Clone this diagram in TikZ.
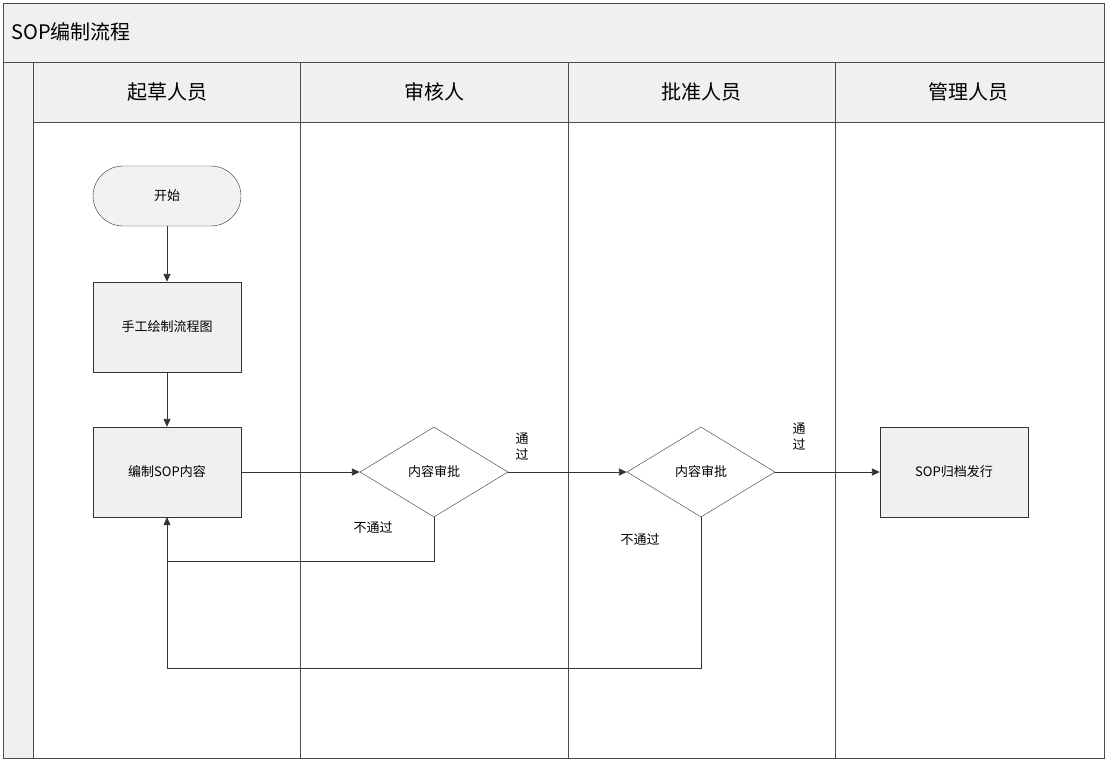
\documentclass[tikz,border=0pt]{standalone}
\usepackage{fontspec}
\setmainfont{Noto Sans CJK SC}
\usetikzlibrary{shapes.geometric,arrows.meta}
\begin{document}
\begin{tikzpicture}[x=1pt,y=-1pt,
  frame/.style={draw=black!70,line width=0.8pt},
  hdr/.style={frame,fill=black!6},
  box/.style={draw=black!80,fill=black!6,minimum width=148pt,minimum height=90pt,font=\fontsize{13}{15}\selectfont,inner sep=2pt},
  dia/.style={diamond,draw=black!80,fill=white,minimum width=148pt,minimum height=90pt,aspect=1.64,inner sep=0pt,font=\fontsize{13}{15}\selectfont},
  arr/.style={draw=black!80,line width=0.9pt,-{Triangle[length=8pt,width=7pt]}},
  lbl/.style={font=\fontsize{13}{15}\selectfont}]
\useasboundingbox (0,0) rectangle (1108,764);
\fill[white] (0,0) rectangle (1108,764);
% title and header
\draw[hdr] (3,3) rectangle (1104,62);
\node[anchor=west,font=\fontsize{20}{24}\selectfont] (title) at (8,32) {SOP编制流程};
\draw[frame] (3,62) rectangle (1104,758);
\draw[frame,fill=black!6] (3,62) rectangle (33,758);
\foreach \a/\b in {33/300,300/568,568/835,835/1104}{
  \draw[hdr] (\a,62) rectangle (\b,122);
  \draw[frame] (\a,122) rectangle (\b,758);
}
\node[font=\fontsize{20}{24}\selectfont] (h1) at (167,92) {起草人员};
\node[font=\fontsize{20}{24}\selectfont] (h2) at (434,92) {审核人};
\node[font=\fontsize{20}{24}\selectfont] (h3) at (701,92) {批准人员};
\node[font=\fontsize{20}{24}\selectfont] (h4) at (968,92) {管理人员};
% nodes
\node[box,rounded corners=30pt,minimum height=60pt,fill=white!95!black] (start) at (167,196) {开始};
\node[box] (draw) at (167,327) {手工绘制流程图};
\node[box] (edit) at (167,472) {编制SOP内容};
\node[dia] (d1) at (434,472) {内容审批};
\node[dia] (d2) at (701,472) {内容审批};
\node[box] (pub) at (954,472) {SOP归档发行};
\coordinate (c1) at (434,561);
\coordinate (c2) at (701,668);
% edges
\draw[arr] (start) -- (draw);
\draw[arr] (draw) -- (edit);
\draw[arr] (edit) -- (d1);
\draw[arr] (d1) -- (d2);
\draw[arr] (d2) -- (pub);
\draw[arr] (d1.south) -- (c1) -| (edit.south);
\draw[draw=black!80,line width=0.9pt] (d2.south) -- (c2) -| (edit.south);
\node[lbl] (l1) at (373,528) {不通过};
\node[lbl] (l2) at (640,540) {不通过};
\node[lbl,align=center,font=\fontsize{13}{16}\selectfont] (l3) at (522,447) {通\\过};
\node[lbl,align=center,font=\fontsize{13}{16}\selectfont] (l4) at (799,437) {通\\过};
\end{tikzpicture}
\end{document}
